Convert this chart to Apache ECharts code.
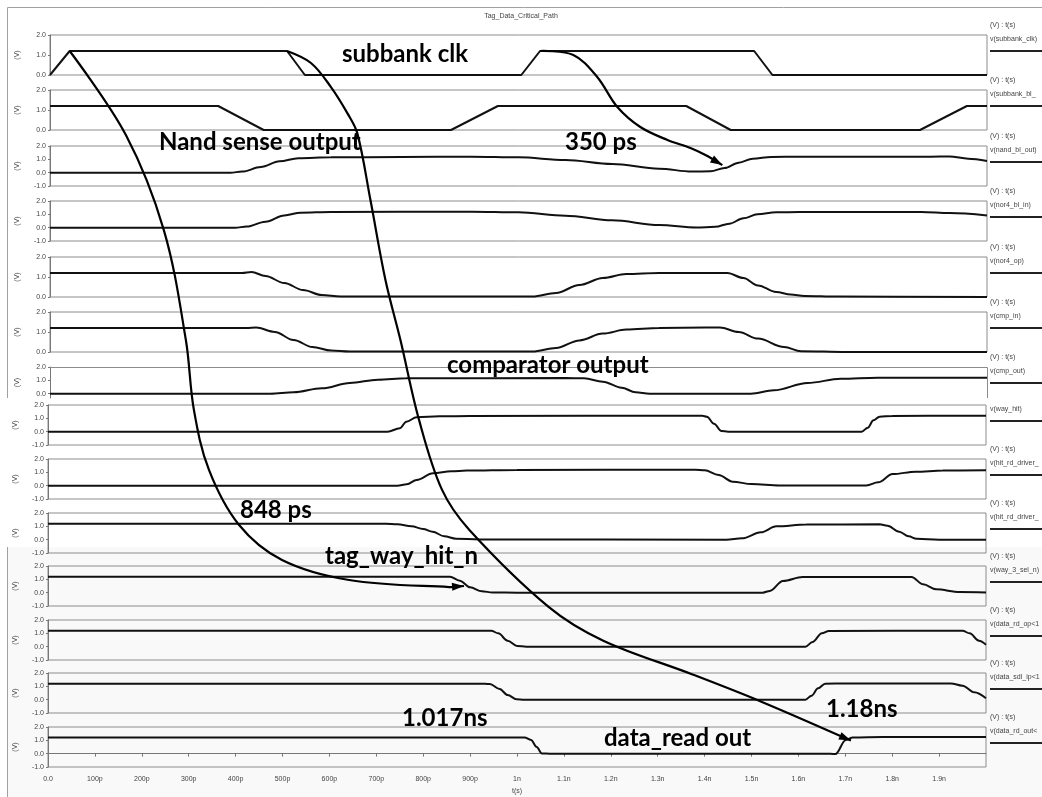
<!DOCTYPE html>
<html>
<head>
<meta charset="utf-8">
<script src="https://cdn.jsdelivr.net/npm/echarts@6/dist/echarts.min.js"></script>
<style>
  html, body { margin: 0; padding: 0; background: #ffffff; }
  #chart { width: 1042px; height: 797px; }
</style>
</head>
<body>
<div id="chart"></div>
<script>
// Transient simulation, time in ps, voltage in V
const timeTickLabels = ['0.0', '100p', '200p', '300p', '400p', '500p', '600p', '700p', '800p', '900p',
  '1n', '1.1n', '1.2n', '1.3n', '1.4n', '1.5n', '1.6n', '1.7n', '1.8n', '1.9n'];

const signalNames = ['v(subbank_clk)', 'v(subbank_bl_', 'v(nand_bl_out)', 'v(nor4_bl_in)', 'v(nor4_op)',
  'v(cmp_in)', 'v(cmp_out)', 'v(way_hit)', 'v(hit_rd_driver_', 'v(hit_rd_driver_', 'v(way_3_sel_n)',
  'v(data_rd_op<1', 'v(data_sdl_ip<1', 'v(data_rd_out<'];

const yMinByPanel = [0, 0, -1, -1, 0, 0, -0.325, -1, -1, -1, -1, -1, -1, -1];
const yTickValues = [[0, 1, 2], [0, 1, 2], [-1, 0, 1, 2], [-1, 0, 1, 2], [0, 1, 2], [0, 1, 2], [0, 1, 2],
  [-1, 0, 1, 2], [-1, 0, 1, 2], [-1, 0, 1, 2], [-1, 0, 1, 2], [-1, 0, 1, 2], [-1, 0, 1, 2], [-1, 0, 1, 2]];

const subbankClk = [[0, 0], [42, 1.2], [506, 1.2], [544, 0], [1006, 0], [1046, 1.2], [1503, 1.2], [1542, 0], [2000, 0]];
const subbankBl = [[0, 1.2], [359, 1.2], [456, 0], [856, 0], [956, 1.2], [1358, 1.2], [1453, 0], [1857, 0], [1957, 1.2], [2000, 1.2]];
const nandBlOut = [[0, 0], [385, 0], [410, 0.08], [450, 0.42], [490, 0.85], [530, 1.08], [600, 1.15], [750, 1.18], [900, 1.2],
  [1000, 1.15], [1100, 0.95], [1200, 0.65], [1300, 0.3], [1370, 0.08], [1410, 0.1], [1440, 0.35], [1470, 0.75], [1500, 1.05],
  [1540, 1.18], [1600, 1.2], [1880, 1.2], [1920, 1.22], [1960, 1.05], [2000, 0.88]];
const nor4BlIn = [[0, 0], [395, 0], [420, 0.08], [460, 0.45], [500, 0.92], [535, 1.12], [600, 1.18], [900, 1.2],
  [1000, 1.15], [1100, 0.9], [1200, 0.55], [1300, 0.2], [1380, 0.02], [1420, 0.06], [1450, 0.3], [1480, 0.7], [1510, 1.0],
  [1550, 1.15], [1600, 1.18], [1860, 1.18], [1920, 1.1], [2000, 0.92]];
const nor4Op = [[0, 1.2], [410, 1.2], [430, 1.25], [460, 1.05], [500, 0.7], [540, 0.35], [580, 0.1], [620, 0.02], [1030, 0.02],
  [1080, 0.2], [1130, 0.6], [1180, 0.95], [1230, 1.15], [1300, 1.2], [1446, 1.2], [1480, 0.95], [1511, 0.58], [1550, 0.25],
  [1581, 0.12], [1610, 0.05], [1680, 0.02], [2000, 0]];
const cmpIn = [[0, 1.2], [420, 1.2], [440, 1.22], [480, 1.0], [520, 0.6], [560, 0.25], [600, 0.07], [640, 0.02], [1030, 0.02],
  [1080, 0.2], [1130, 0.58], [1180, 0.92], [1230, 1.12], [1300, 1.2], [1400, 1.22], [1430, 1.23], [1470, 1.0], [1511, 0.67],
  [1567, 0.25], [1603, 0.04], [1700, 0], [2000, 0]];
const cmpOut = [[0, 0], [470, 0], [520, 0.1], [580, 0.4], [640, 0.8], [700, 1.05], [760, 1.15], [1100, 1.18], [1140, 1.15],
  [1180, 0.9], [1220, 0.45], [1250, 0.1], [1280, 0], [1496, 0], [1545, 0.25], [1617, 0.8], [1688, 1.12], [1767, 1.2], [2000, 1.2]];
const wayHit = [[0, 0], [724, 0], [750, 0.25], [764, 0.75], [786, 1.08], [835, 1.15], [900, 1.18], [1395, 1.2], [1405, 1.12],
  [1420, 0.6], [1436, 0.05], [1450, 0], [1735, 0], [1748, 0.3], [1760, 0.85], [1773, 1.12], [1800, 1.18], [2000, 1.2]];
const hitRdDriverA = [[0, 0], [745, 0], [765, 0.1], [786, 0.43], [821, 0.93], [860, 1.08], [893, 1.13], [1000, 1.18], [1380, 1.2],
  [1400, 1.15], [1430, 0.8], [1460, 0.3], [1500, 0.12], [1560, 0.02], [1745, 0.02], [1770, 0.25], [1801, 0.87], [1850, 1.05],
  [1908, 1.13], [2000, 1.15]];
const hitRdDriverB = [[0, 1.2], [720, 1.2], [745, 1.15], [775, 1.0], [800, 0.8], [820, 0.6], [845, 0.25], [870, 0.07], [920, 0.02],
  [1446, 0], [1480, 0.1], [1520, 0.55], [1553, 1.0], [1617, 1.13], [1773, 1.15], [1790, 1.05], [1815, 0.6], [1835, 0.25],
  [1852, 0.07], [1900, 0], [2000, 0]];
const way3SelN = [[0, 1.2], [857, 1.2], [878, 0.9], [900, 0.4], [925, 0.1], [948, 0.02], [1000, 0], [1524, 0], [1539, 0.13],
  [1567, 0.88], [1609, 1.18], [1841, 1.18], [1866, 0.63], [1894, 0.25], [1944, 0.05], [2000, 0.02]];
const dataRdOp = [[0, 1.2], [945, 1.2], [960, 1.0], [980, 0.45], [1000, 0.05], [1020, 0], [1615, 0], [1630, 0.35], [1650, 1.0],
  [1665, 1.18], [1950, 1.2], [1965, 1.0], [1985, 0.45], [2000, 0.15]];
const dataSdlIp = [[0, 1.2], [921, 1.2], [942, 1.17], [963, 0.8], [980, 0.35], [999, 0.04], [1015, 0], [1615, 0], [1628, 0.3],
  [1642, 0.85], [1657, 1.2], [1700, 1.22], [1925, 1.22], [1950, 1.05], [1975, 0.55], [2000, 0.1]];
const dataRdOut = [[0, 1.22], [1016, 1.22], [1030, 1.03], [1042, 0.5], [1053, 0.02], [1070, 0], [1657, 0], [1679, -0.03],
  [1701, 1.03], [1716, 1.22], [1780, 1.25], [2000, 1.25]];

const signalData = [subbankClk, subbankBl, nandBlOut, nor4BlIn, nor4Op, cmpIn, cmpOut, wayHit, hitRdDriverA,
  hitRdDriverB, way3SelN, dataRdOp, dataSdlIp, dataRdOut];
const smoothByPanel = [false, false, true, true, true, true, true, true, true, true, true, true, true, true];

// Annotation arrows: [panel, time ps, volts in that panel's scale]
const arrow848 = [[0, 42, 1.2], [1, 162, -0.25], [3, 243, -0.18], [5, 290, 0.6], [7, 311, 1.65], [8, 343, 1.2],
  [9, 407, 1.12], [10, 499, 2.45], [10, 642, 0.95], [10, 855, 0.42], [10, 887, 0.5]];
const arrow350 = [[0, 1046, 1.2], [0, 1117, 1.0], [0, 1168, -0.1], [1, 1211, 1.15], [1, 1260, 0.15], [2, 1318, 2.45],
  [2, 1367, 1.85], [2, 1399, 1.32], [2, 1435, 0.57]];
const arrow1180 = [[0, 506, 1.2], [0, 557, 0.6], [0, 599, -0.58], [1, 635, 0.83], [1, 656, -0.17], [3, 684, 2.07],
  [4, 716, 0.85], [5, 748, 0.6], [7, 791, 0.9], [8, 840, -0.3], [9, 898, 0.75], [10, 1068, -1.08], [11, 1184, 0.45],
  [12, 1373, 1.91], [12, 1521, -0.15], [13, 1712, 0.98]];

const annotationTexts = ['subbank clk', 'Nand sense output', '350 ps', 'comparator output', '848 ps',
  'tag_way_hit_n', '1.017ns', '1.18ns', 'data_read out'];

// ---- layout ----
const panelTop = [35, 90, 146, 201, 257, 312, 367, 405, 459, 513, 566, 620, 673, 727];
const panelHeight = [40, 40, 40, 40, 40, 40, 31, 40, 40, 40, 40, 40, 40, 40];
// left edge and top of each bold label
const annotationPos = [[342, 42], [159, 130], [565, 130], [447, 353], [240, 498], [325, 544], [402, 706], [826, 697], [604, 726]];

const chart = echarts.init(document.getElementById('chart'), null, { renderer: 'canvas' });
const last = signalNames.length - 1;
const smallFont = { fontFamily: 'Liberation Sans', fontSize: 7, color: '#444' };
const clippedPanel = 6;   // its lower edge is hidden under the next strip

const grid = [], xAxis = [], yAxis = [], series = [];
signalNames.forEach((name, i) => {
  const upper = i < 7;
  grid.push({
    left: upper ? 50 : 48, width: upper ? 937 : 938, top: panelTop[i], height: panelHeight[i],
    show: i !== clippedPanel, borderColor: '#8c8c8c', borderWidth: 1, backgroundColor: 'transparent'
  });
  xAxis.push({
    type: 'value', gridIndex: i, min: 0, max: 2000, interval: 100, show: i === last,
    axisLine: { show: true, lineStyle: { color: '#777' } },
    axisTick: { show: true, length: 3, lineStyle: { color: '#777' } },
    axisLabel: Object.assign({ margin: 9, showMaxLabel: false, formatter: v => timeTickLabels[Math.round(v / 100)] || '' }, smallFont),
    splitLine: { show: false },
    name: 't(s)', nameLocation: 'middle', nameGap: 21, nameTextStyle: smallFont
  });
  yAxis.push({
    type: 'value', gridIndex: i, min: yMinByPanel[i], max: 2,
    axisLine: { show: true, lineStyle: { color: '#777' } },
    axisTick: { show: true, length: 2, customValues: yTickValues[i], lineStyle: { color: '#777' } },
    axisLabel: Object.assign({ margin: 4, customValues: yTickValues[i], formatter: v => v.toFixed(1) }, smallFont),
    splitLine: { show: false },
    name: '(V)', nameLocation: 'middle', nameRotate: 90, nameGap: 29, nameTextStyle: smallFont
  });
  series.push({
    type: 'line', xAxisIndex: i, yAxisIndex: i, data: signalData[i], showSymbol: false,
    smooth: smoothByPanel[i] ? 0.35 : false, smoothMonotone: 'x',
    lineStyle: { color: '#111', width: 2 }, animation: false, silent: true
  });
});

chart.setOption({ animation: false, backgroundColor: '#ffffff', grid, xAxis, yAxis, series });

// ---- frame, legend and annotations drawn over the panels ----
const graphic = [];
const W = chart.getWidth(), H = chart.getHeight();
// faint tint of the lower strip and the outer frame
graphic.push({ type: 'rect', z: -10, shape: { x: 7, y: 547, width: W - 7, height: H - 547 }, style: { fill: '#f8f9f8' } });
graphic.push({ type: 'polyline', z: 1, shape: { points: [[7.5, 398], [7.5, 7.5], [W, 7.5]] }, style: { stroke: '#a0a0a0', lineWidth: 1, fill: null } });
graphic.push({ type: 'line', z: 1, shape: { x1: 7.5, y1: 547, x2: 7.5, y2: H }, style: { stroke: '#a0a0a0', lineWidth: 1 } });

// top and right edges of the clipped panel
const p7a = chart.convertToPixel({ gridIndex: clippedPanel }, [0, 2]);
const p7b = chart.convertToPixel({ gridIndex: clippedPanel }, [2000, yMinByPanel[clippedPanel]]);
graphic.push({ type: 'polyline', z: 1, shape: { points: [[p7a[0], p7a[1] + 0.5], [p7b[0] + 0.5, p7a[1] + 0.5], [p7b[0] + 0.5, p7b[1]]] },
  style: { stroke: '#8c8c8c', lineWidth: 1, fill: null } });

graphic.push({ type: 'text', left: 'center', top: 13, style: { text: 'Tag_Data_Critical_Path', fill: '#444', font: '7px "Liberation Sans"' } });

signalNames.forEach((name, i) => {
  const top = panelTop[i];
  if (i !== clippedPanel + 1) {
    graphic.push({ type: 'text', x: 990, y: top - 13, style: { text: '(V) : t(s)', fill: '#444', font: '7px "Liberation Sans"' } });
  }
  graphic.push({ type: 'text', x: 990, y: top + 1, style: { text: name, fill: '#444', font: '7px "Liberation Sans"' } });
  graphic.push({ type: 'line', shape: { x1: 990, y1: top + 16, x2: W, y2: top + 16 }, style: { stroke: '#222', lineWidth: 2 } });
});

function toPx(pt) {
  return chart.convertToPixel({ gridIndex: pt[0] }, [pt[1], pt[2]]);
}
function addArrow(path) {
  const pts = path.map(toPx);
  graphic.push({ type: 'polyline', z: 50, shape: { points: pts, smooth: 0.35 }, style: { stroke: '#000', lineWidth: 2.2, fill: null } });
  const tip = pts[pts.length - 1];
  const prev = pts[pts.length - 2];
  let dx = tip[0] - prev[0], dy = tip[1] - prev[1];
  const len = Math.hypot(dx, dy); dx /= len; dy /= len;
  const bx = tip[0] - dx * 12, by = tip[1] - dy * 12;
  graphic.push({ type: 'polygon', z: 51, shape: { points: [tip, [bx - dy * 4, by + dx * 4], [bx + dy * 4, by - dx * 4]] }, style: { fill: '#000' } });
}
[arrow848, arrow350, arrow1180].forEach(addArrow);

annotationTexts.forEach((t, k) => {
  graphic.push({ type: 'text', z: 60, x: annotationPos[k][0], y: annotationPos[k][1],
    style: { text: t, fill: '#000', font: 'bold 24px Lato' } });
});

chart.setOption({ graphic });
</script>
</body>
</html>
